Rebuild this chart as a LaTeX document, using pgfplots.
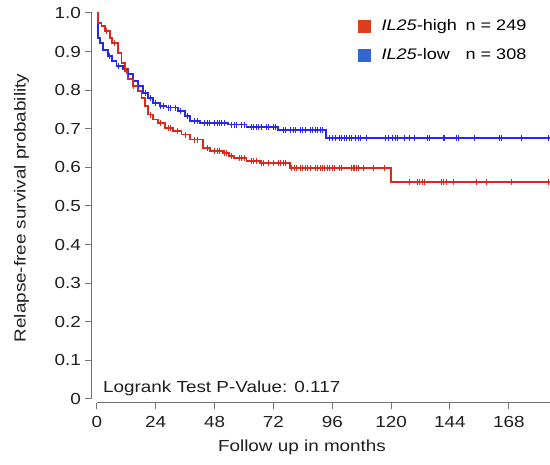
\documentclass[border=0pt]{standalone}
\usepackage{pgfplots}
\pgfplotsset{compat=1.18}
\usepackage{fontspec}
\setmainfont{Liberation Sans}[FakeStretch=1.18]
\definecolor{redline}{RGB}{222,40,28}
\definecolor{blueline}{RGB}{40,40,232}
\definecolor{legred}{RGB}{222,62,30}
\definecolor{legblue}{RGB}{52,102,208}
\definecolor{axgray}{RGB}{115,115,115}
\begin{document}
\fontsize{16}{19}\selectfont
\begin{tikzpicture}
\useasboundingbox (-92pt,-62pt) rectangle (458pt,403pt);
\begin{axis}[
  at={(0,0)}, anchor=south west,
  scale only axis, width=458pt, height=390pt,
  xmin=-2, xmax=184.8, ymin=-0.0104, ymax=1,
  axis line style={draw=none},
  xtick={0,24,48,72,96,120,144,168},
  ytick={0,0.1,0.2,0.3,0.4,0.5,0.6,0.7,0.8,0.9,1.0},
  yticklabels={0,0.1,0.2,0.3,0.4,0.5,0.6,0.7,0.8,0.9,1.0},
  tick align=outside, tick pos=left,
  major tick length=6.5pt,
  tick style={axgray, line width=1pt},
  /pgf/number format/assume math mode=true,
  ticklabel style={font=\fontsize{16}{19}\selectfont, text=black!88},
  xticklabel style={yshift=-1pt},
  yticklabel style={xshift=1pt},
  xlabel={Follow up in months},
  ylabel={Relapse-free survival probability},
  label style={font=\fontsize{16}{19}\selectfont, text=black!88},
  xlabel style={yshift=-2pt, xshift=-19pt},
  ylabel style={yshift=15pt},
  clip=false,
  legend style={at={(axis cs:106.5,0.99)}, anchor=north west, draw=none, fill=none,
    font=\fontsize{15.3}{18}\selectfont, row sep=12pt, inner sep=0pt,
    /tikz/every even column/.append style={column sep=0pt}},
  legend cell align=left,
]
\draw[axgray, line width=1pt] (axis cs:-2,0) -- (axis cs:-2,1);
\draw[axgray, line width=1pt] (axis cs:0,-0.0104) -- (axis cs:184.8,-0.0104);
% Blue (low)
\addplot[const plot, draw=blueline, line width=1.8pt, forget plot] coordinates {
(0,1.0)(0.3,0.936)(1.2,0.923)(2.6,0.905)(4.6,0.888)(6,0.875)(8,0.862)(10.7,0.854)
(12.8,0.841)(14.8,0.823)(16.8,0.810)(18.8,0.793)(20.9,0.780)(23,0.767)(25.7,0.760)
(28.4,0.755)(33.2,0.746)(35.9,0.733)(38,0.720)(42,0.716)(53.5,0.711)(61,0.705)
(74,0.697)(93.4,0.677)(184.8,0.677)};
\addplot[only marks, mark=|, mark size=3pt, mark options={draw=blueline, line width=1pt}, forget plot] coordinates {
(5,0.888)(9,0.862)(13,0.841)(17,0.810)(20,0.793)(22,0.780)(24,0.767)(26,0.760)(27,0.760)
(29,0.755)(30,0.755)(32,0.755)(34,0.746)(37,0.733)(40,0.720)(41,0.720)
(44,0.716)(45,0.716)(46,0.716)(48,0.716)(49,0.716)(50,0.716)(51,0.716)(52,0.716)
(55,0.711)(56,0.711)(57,0.711)(59,0.711)(60,0.711)
(63,0.705)(64,0.705)(65,0.705)(66,0.705)(67,0.705)(69,0.705)(70,0.705)(72,0.705)(73,0.705)
(76,0.697)(77,0.697)(79,0.697)(80,0.697)(81,0.697)(83,0.697)(84,0.697)(85,0.697)(87,0.697)
(88,0.697)(89,0.697)(90,0.697)(91,0.697)(92,0.697)
(95,0.677)(96,0.677)(97.5,0.677)(99,0.677)(99.8,0.677)(101.1,0.677)(102,0.677)(103.2,0.677)
(104,0.677)(105.6,0.677)(106.6,0.677)(107.6,0.677)(109.8,0.677)(117.9,0.677)(118.9,0.677)
(120.7,0.677)(121.6,0.677)(122.6,0.677)(125.6,0.677)(127.6,0.677)(129.7,0.677)(134.7,0.677)
(135.5,0.677)(141.2,0.677)(141.9,0.677)(146.7,0.677)(147.3,0.677)(154.2,0.677)(164.1,0.677)
(165.1,0.677)(173.2,0.677)(184.1,0.677)};
% Red (high)
\addplot[const plot, draw=redline, line width=1.8pt, forget plot] coordinates {
(0,1.0)(0.5,0.975)(1.9,0.966)(3.2,0.953)(5.3,0.936)(6,0.923)(8.7,0.897)(10,0.871)
(11.4,0.849)(12.8,0.828)(14.8,0.810)(16.8,0.797)(18.2,0.780)(19.6,0.759)(20.9,0.737)
(23,0.724)(25,0.714)(27.7,0.703)(31.1,0.694)(34.5,0.685)(38,0.672)(43.4,0.651)(46,0.642)
(51.5,0.638)(54,0.629)(56,0.625)(61,0.616)(66.5,0.612)(78.7,0.599)(119.8,0.562)(184.8,0.562)};
\addplot[only marks, mark=|, mark size=3pt, mark options={draw=redline, line width=1pt}, forget plot] coordinates {
(4,0.953)(7,0.923)(12,0.849)(15,0.810)(22,0.737)(26,0.714)(29,0.703)(30,0.703)(33,0.694)
(36,0.685)(40,0.672)(41,0.672)(45,0.651)(48,0.642)(49,0.642)(50,0.642)(52,0.638)(53,0.638)
(55,0.629)(58,0.625)(59,0.625)(60,0.625)(63,0.616)(64,0.616)(65,0.616)
(67,0.612)(68,0.612)(70,0.612)(72,0.612)(74,0.612)(75,0.612)(76,0.612)(77,0.612)
(79.5,0.599)(80.5,0.599)(81.5,0.599)(83,0.599)(84,0.599)(85,0.599)(86,0.599)(87,0.599)
(89,0.599)(90,0.599)(91,0.599)(92,0.599)(93,0.599)(94,0.599)(95,0.599)(96,0.599)(97,0.599)
(99,0.599)(99.8,0.599)(103.9,0.599)(104.6,0.599)(105.2,0.599)(105.9,0.599)(106.6,0.599)
(108.6,0.599)(112.7,0.599)(117.5,0.599)
(127.6,0.562)(130.6,0.562)(131.7,0.562)(132.8,0.562)(133.8,0.562)(140.6,0.562)(141.5,0.562)
(142.6,0.562)(145.3,0.562)(154.9,0.562)(158.9,0.562)(169.1,0.562)(184.1,0.562)};
\addlegendimage{legend image code/.code={\fill[legred] (0pt,-6pt) rectangle (12pt,6pt);}}
\addlegendentry{\hspace{9pt}\makebox[84pt][l]{\textit{IL25}-high}\makebox[62pt][l]{n = 249}}
\addlegendimage{legend image code/.code={\fill[legblue] (0pt,-6pt) rectangle (12pt,6pt);}}
\addlegendentry{\hspace{9pt}\makebox[84pt][l]{\textit{IL25}-low}\makebox[62pt][l]{n = 308}}
\node[anchor=base west, inner sep=0pt, text=black!88, font=\fontsize{16}{19}\selectfont] at (axis cs:2.45,0.017) {Logrank Test P-Value: 0.117};
\end{axis}
\end{tikzpicture}
\end{document}
